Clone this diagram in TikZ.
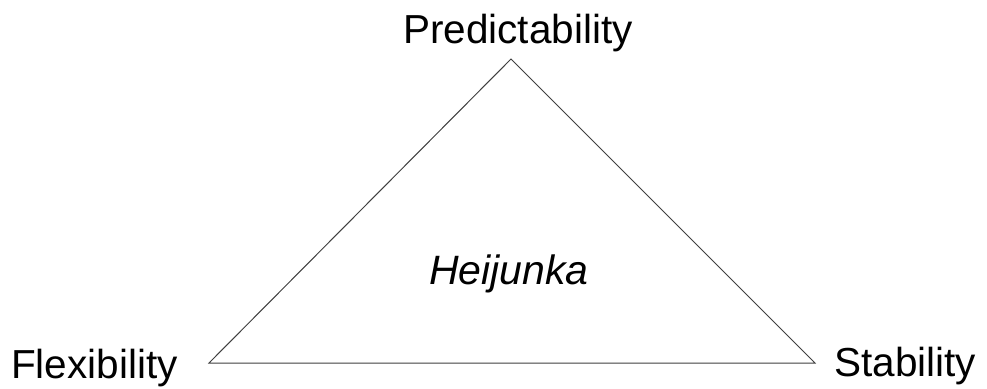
\documentclass[tikz,border=0pt]{standalone}
\usepackage{fontspec}
\setmainfont{Liberation Sans}
\begin{document}
\begin{tikzpicture}[x=1pt,y=1pt,
  lbl/.style={inner sep=0pt, font=\fontsize{40.5}{48}\selectfont},
  edge/.style={draw=black!75, line width=1pt, line join=miter}]
\useasboundingbox (0,0) rectangle (987,388);
\fill[white] (0,0) rectangle (987,388);
\coordinate (top) at (511,329);
\coordinate (bl) at (209,25);
\coordinate (br) at (815,25);
\draw[edge] (top) -- (bl) -- (br) -- cycle;
\node[lbl, anchor=base] (pred) at (518,344) {Predictability};
\node[lbl, anchor=base west] (flex) at (11,10) {Flexibility};
\node[lbl, anchor=base west] (stab) at (834,12) {Stability};
\node[lbl, anchor=base, font=\fontsize{41}{48}\selectfont\itshape] (hei) at (509,103) {Heijunka};
\end{tikzpicture}
\end{document}
